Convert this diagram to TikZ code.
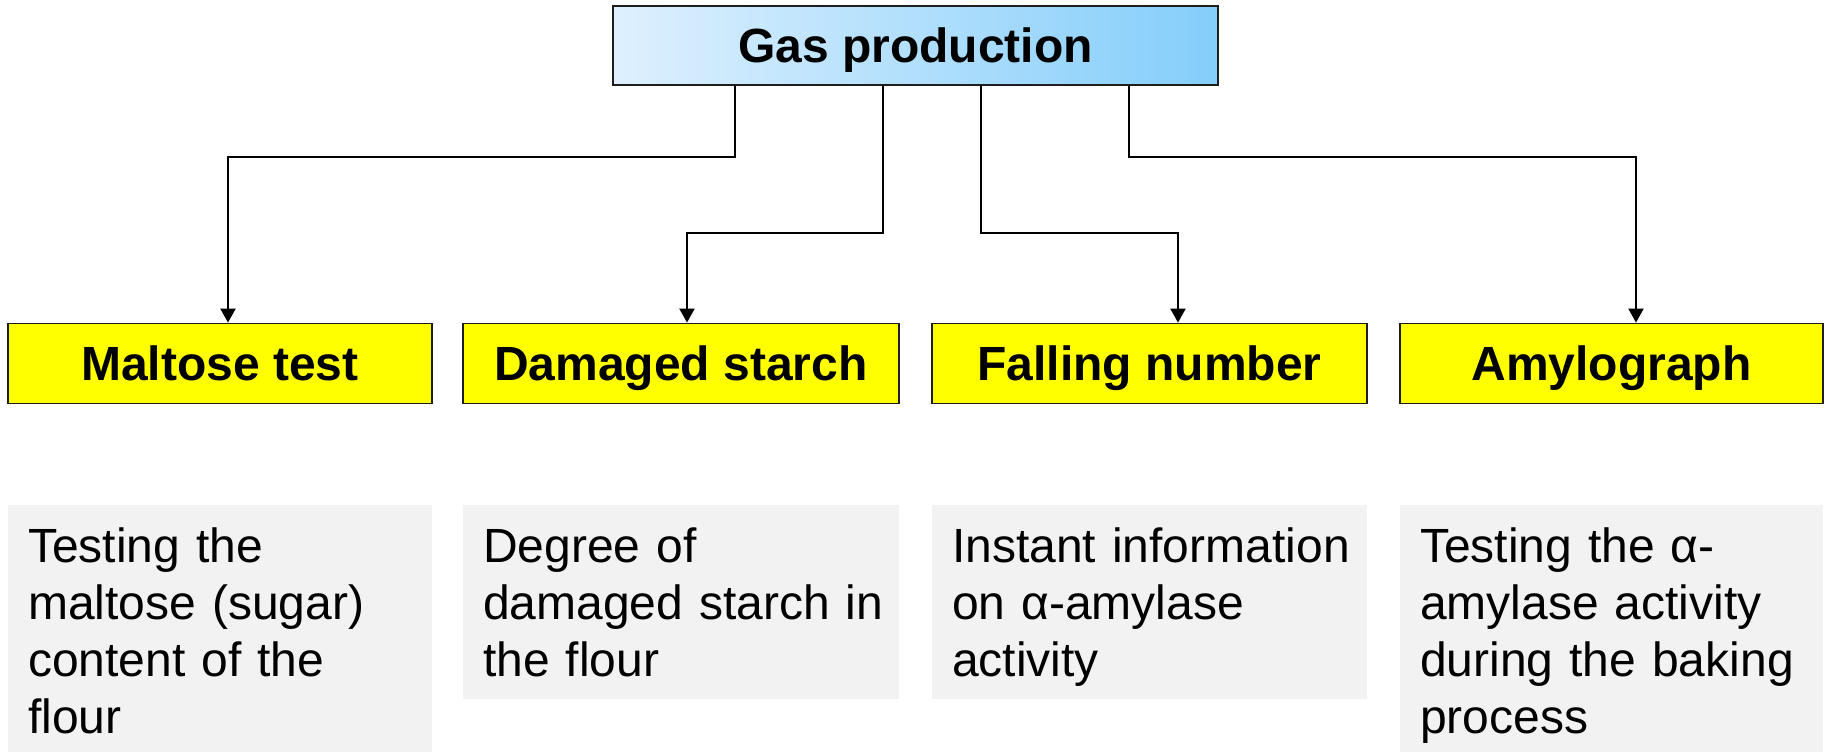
\documentclass[tikz,border=0pt]{standalone}
\usepackage{fontspec}
\setmainfont{Liberation Sans}
\usetikzlibrary{arrows.meta}
\definecolor{skyL}{RGB}{222,240,254}
\definecolor{skyR}{RGB}{132,206,250}
\definecolor{boxyellow}{RGB}{255,255,0}
\definecolor{notegray}{RGB}{242,242,242}
\definecolor{edge}{RGB}{30,30,30}
\tikzset{
  headbox/.style={draw=edge, line width=2pt, left color=skyL, right color=skyR,
    minimum width=605pt, minimum height=79pt, inner sep=0pt,
    font=\fontsize{48}{57.6}\selectfont\bfseries, text height=34.4pt, text depth=0pt},
  testbox/.style={draw=edge, line width=1.8pt, fill=boxyellow,
    minimum height=80pt, inner sep=0pt,
    font=\fontsize{48}{57.6}\selectfont\bfseries, text height=34.4pt, text depth=0pt},
  notebox/.style={fill=notegray, draw=none, inner sep=0pt, anchor=north west},
  notetext/.style={anchor=base west, inner sep=0pt, text width=440pt, align=left,
    font=\fontsize{48}{57.3}\selectfont},
  link/.style={line width=2pt, draw=black, -{Triangle[length=14pt,width=15pt]}},
}
\begin{document}
\begin{tikzpicture}[x=1pt,y=-1pt]
\useasboundingbox (0,0) rectangle (1829,752);

% grey description panels
\node[notebox, minimum width=424pt, minimum height=247pt] (g1) at (8,505) {};
\node[notebox, minimum width=436pt, minimum height=194pt] (g2) at (463,505) {};
\node[notebox, minimum width=435pt, minimum height=194pt] (g3) at (932,505) {};
\node[notebox, minimum width=423pt, minimum height=247pt] (g4) at (1400,505) {};

\node[notetext] (t1) at ([xshift=20pt,yshift=-57pt]g1.north west)
  {Testing the\\maltose (sugar)\\content of the\\flour};
\node[notetext] (t2) at ([xshift=20pt,yshift=-57pt]g2.north west)
  {Degree of\\damaged starch in\\the flour};
\node[notetext] (t3) at ([xshift=20pt,yshift=-57pt]g3.north west)
  {Instant information\\on α-amylase\\activity};
\node[notetext] (t4) at ([xshift=20pt,yshift=-57pt]g4.north west)
  {Testing the α-\\amylase activity\\during the baking\\process};

% drop points under the header and arrow landing points
\coordinate (c1) at (735,0);
\coordinate (c2) at (883,0);
\coordinate (c3) at (981,0);
\coordinate (c4) at (1129,0);
\coordinate (a1) at (228,0);
\coordinate (a2) at (687,0);
\coordinate (a3) at (1178,0);
\coordinate (a4) at (1636,0);
\coordinate (outer) at (0,157);
\coordinate (inner) at (0,233);

% header and test boxes
\node[headbox] (gas) at (915.5,45.5) {Gas production};
\node[testbox, minimum width=424pt] (m1) at (220,363.5) {Maltose test};
\node[testbox, minimum width=436pt] (m2) at (681,363.5) {Damaged starch};
\node[testbox, minimum width=435pt] (m3) at (1149.5,363.5) {Falling number};
\node[testbox, minimum width=423pt] (m4) at (1611.5,363.5) {Amylograph};

% connectors
\draw[link] (gas.south -| c1) -- (c1 |- outer) -| (m1.north -| a1);
\draw[link] (gas.south -| c2) -- (c2 |- inner) -| (m2.north -| a2);
\draw[link] (gas.south -| c3) -- (c3 |- inner) -| (m3.north -| a3);
\draw[link] (gas.south -| c4) -- (c4 |- outer) -| (m4.north -| a4);
\end{tikzpicture}
\end{document}
